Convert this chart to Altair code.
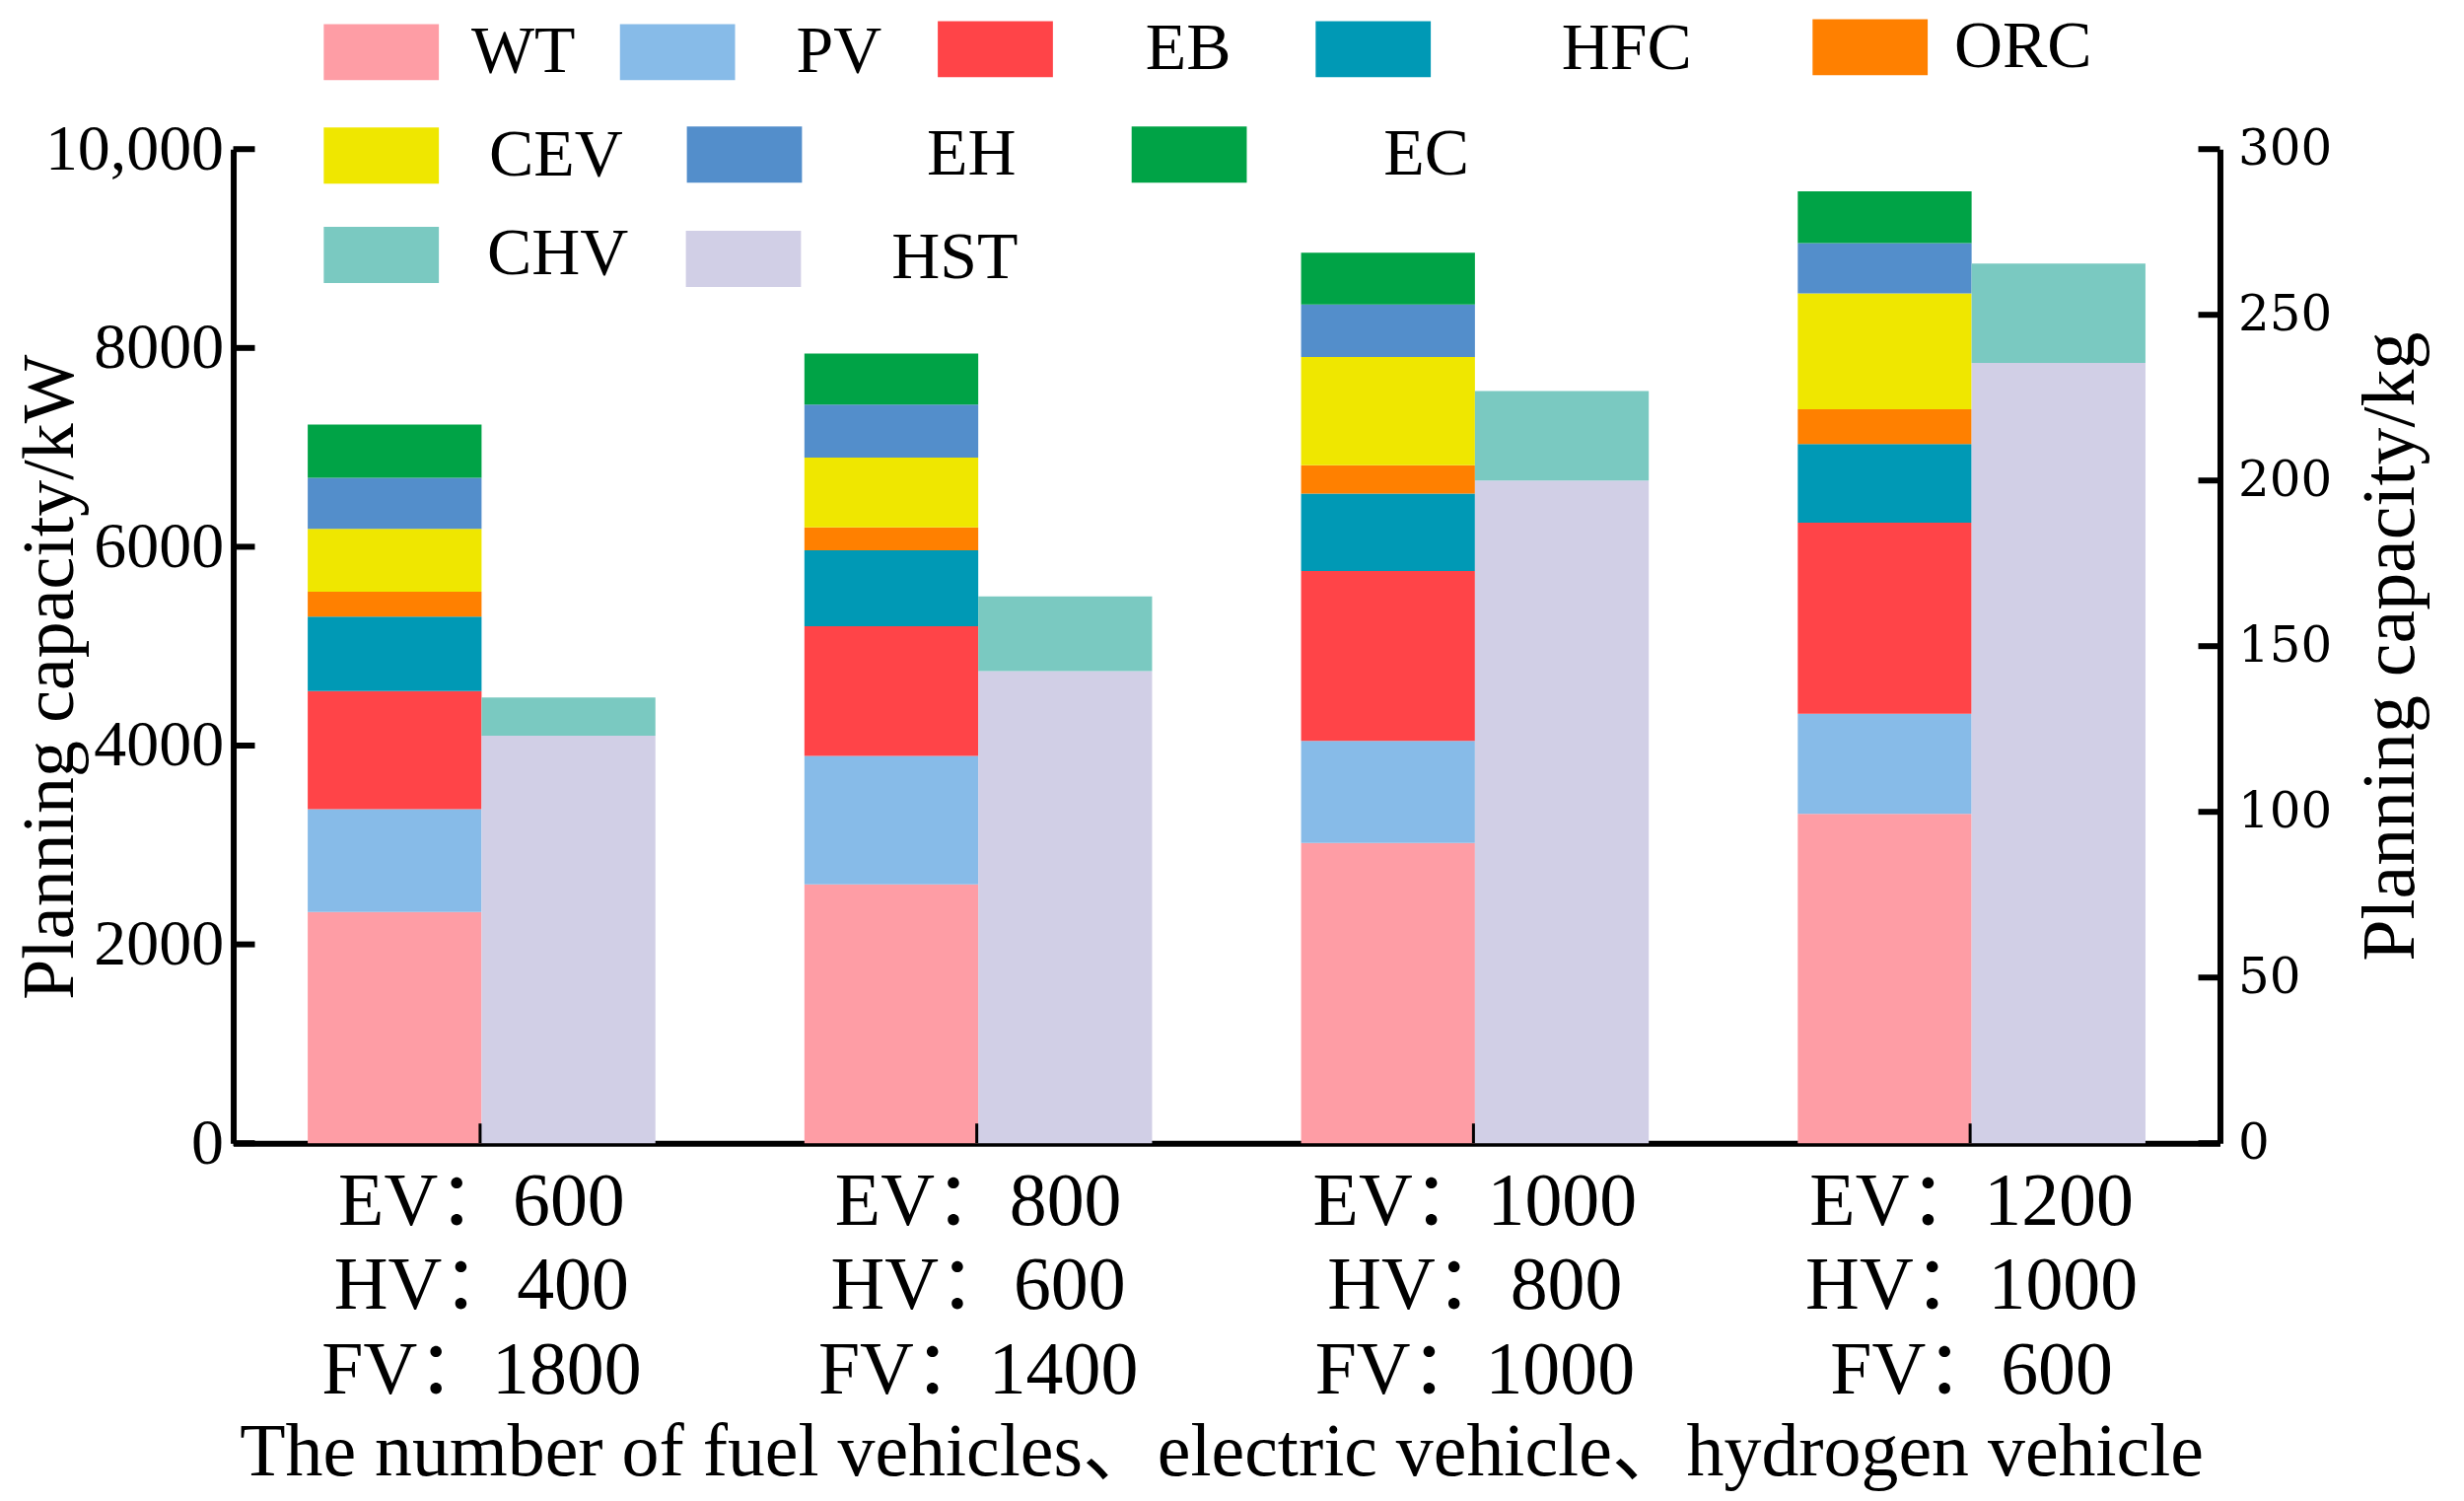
import altair as alt
import pandas as pd

# ---------------- data ----------------
EV = [600, 800, 1000, 1200]
HV = [400, 600, 800, 1000]
FV = [1800, 1400, 1000, 600]

# kW capacities (stacked, bottom to top)
WT = [2326, 2604, 3021, 3312]
PV = [1035, 1292, 1027, 1007]
EB = [1188, 1305, 1709, 1924]
HFC = [749, 764, 777, 791]
ORC = [250, 229, 285, 348]
CEV = [632, 702, 1090, 1166]
EH = [514, 534, 528, 507]
EC = [535, 514, 521, 521]

# kg capacities (stacked, bottom to top)
HST = [123, 142.5, 200, 235.5]
CHV = [11.5, 22.5, 27, 30]

kw_series = ["WT", "PV", "EB", "HFC", "ORC", "CEV", "EH", "EC"]
kg_series = ["HST", "CHV"]
colors = {"WT": "#FE9DA5", "PV": "#87BBE8", "EB": "#FF4448", "HFC": "#0099B5",
          "ORC": "#FF8000", "CEV": "#EFE700", "EH": "#538ECB", "EC": "#00A346",
          "CHV": "#7AC9C1", "HST": "#D1CFE6"}

kw_ticks = [0, 2000, 4000, 6000, 8000, 10000]
kg_ticks = [0, 50, 100, 150, 200, 250, 300]

# legend entry placement (x, y of entry box relative to plot, label offset)
legend_pos = {
    "WT": (92, -157, 33), "PV": (393, -157, 62), "EB": (716, -160, 94),
    "HFC": (1100, -160, 133), "ORC": (1605, -162, 27),
    "CEV": (92, -52, 51), "EH": (461, -53, 127), "EC": (913, -53, 139),
    "CHV": (92, 49, 49), "HST": (460, 53, 92),
}

# ---------------- tables ----------------
cats = [f"EV：{e}|HV：{h}|FV：{f}" for e, h, f in zip(EV, HV, FV)]
kw = {"WT": WT, "PV": PV, "EB": EB, "HFC": HFC, "ORC": ORC,
      "CEV": CEV, "EH": EH, "EC": EC}
kg = {"HST": HST, "CHV": CHV}

rows = []
for i, c in enumerate(cats):
    base = 0
    for s in kw_series:
        v = kw[s][i]
        rows.append(dict(cat=c, series=s, y0=base, y1=base + v, side="kW"))
        base += v
df_kw = pd.DataFrame(rows)

rows = []
for i, c in enumerate(cats):
    base = 0
    for s in kg_series:
        v = kg[s][i]
        rows.append(dict(cat=c, series=s, y0=base, y1=base + v, side="kg"))
        base += v
df_kg = pd.DataFrame(rows)

df_kwt = pd.DataFrame({"v": kw_ticks})
df_kgt = pd.DataFrame({"v": kg_ticks})
df_cat = pd.DataFrame({"cat": cats})

# ---------------- layout ----------------
W, H = 2019, 1010
SERIF = "Liberation Serif, 'Noto Sans CJK SC'"
TL = 22      # inward tick length
LW = 6       # axis line width

x_enc = alt.X(
    "cat:N", sort=cats,
    scale=alt.Scale(paddingInner=0.3, paddingOuter=0.15),
    axis=alt.Axis(
        title="The number of fuel vehicles、electric vehicle、hydrogen vehicle",
        labelExpr="split(datum.label, '|')",
        labelFont=SERIF, labelFontSize=76, labelLineHeight=86, labelLimit=2000,
        labelColor="black", labelAngle=0, labelPadding=22, labelBaseline="top",
        ticks=False, domainColor="black", domainWidth=LW,
        titleFont=SERIF, titleFontSize=76, titleFontWeight="normal",
        titleColor="black", titleX=1004, titleY=314, titleBaseline="middle",
        titleAlign="center", titleLimit=3000,
    ),
)
xo_enc = alt.XOffset("side:N", scale=alt.Scale(domain=["kW", "kg"],
                                                paddingInner=0, paddingOuter=0))

kw_scale = alt.Scale(domain=[0, 10000], nice=False, zero=True)
kg_scale = alt.Scale(domain=[0, 300], nice=False, zero=True)

left_axis = alt.Axis(
    title="Planning capacity/kW", values=kw_ticks,
    labelExpr="datum.value == 10000 ? '10,000' : datum.value",
    labelFont=SERIF, labelFontSize=66, labelColor="black", labelPadding=10,
    labelLimit=1000,
    ticks=False, grid=False, domainColor="black", domainWidth=LW,
    titleFont=SERIF, titleFontSize=74, titleFontWeight="normal", titleColor="black",
    titleAngle=270, titleX=-185, titleY=536, titleBaseline="middle", titleAlign="center",
    titleLimit=3000,
)
right_axis = alt.Axis(
    orient="right", title="Planning capacity/kg", values=kg_ticks,
    labelFont="DejaVu Serif", labelFontSize=50, labelColor="black",
    labelPadding=18, labelAlign="left", labelLimit=1000,
    ticks=False, grid=False, domainColor="black", domainWidth=LW,
    titleFont=SERIF, titleFontSize=76, titleFontWeight="normal", titleColor="black",
    titleAngle=270, titleX=173, titleY=505, titleBaseline="middle", titleAlign="center",
    titleLimit=3000,
)

RECT = "M-1,-0.487H1V0.487H-1Z"


def legend(s):
    x, y, off = legend_pos[s]
    return alt.Legend(
        title=None, orient="none", legendX=x, legendY=y, direction="horizontal",
        symbolType=RECT, symbolSize=13689, symbolStrokeWidth=0, symbolOpacity=1,
        labelFont=SERIF, labelFontSize=68, labelColor="black", labelLimit=1000,
        labelOffset=off, columnPadding=0, padding=0,
    )


def series_layer(df, s, yscale, yaxis):
    return alt.Chart(df).transform_filter(
        alt.datum.series == s
    ).mark_bar().encode(
        x=x_enc, xOffset=xo_enc,
        y=alt.Y("y0:Q", scale=yscale, axis=yaxis), y2="y1:Q",
        color=alt.Color("series:N",
                        scale=alt.Scale(domain=[s], range=[colors[s]]),
                        legend=legend(s)),
    )


kw_layers = [series_layer(df_kw, s, kw_scale, left_axis) for s in kw_series]
ticks_left = alt.Chart(df_kwt).mark_rule(color="black", strokeWidth=LW).encode(
    y=alt.Y("v:Q", scale=kw_scale, axis=left_axis),
    x=alt.value(0), x2=alt.value(TL),
)
ticks_bottom = alt.Chart(df_cat).mark_rule(color="black", strokeWidth=LW).encode(
    x=x_enc, y=alt.value(H - 20), y2=alt.value(H),
)
inner = alt.layer(*kw_layers, ticks_left, ticks_bottom).resolve_scale(color="independent")

kg_layers = [series_layer(df_kg, s, kg_scale, right_axis) for s in kg_series]
ticks_right = alt.Chart(df_kgt).mark_rule(color="black", strokeWidth=LW).encode(
    y=alt.Y("v:Q", scale=kg_scale, axis=right_axis),
    x=alt.value(W - TL), x2=alt.value(W),
)
right = alt.layer(*kg_layers, ticks_right).resolve_scale(color="independent")

chart = alt.layer(inner, right).resolve_scale(
    y="independent", color="independent"
).properties(
    width=W, height=H,
    autosize=alt.AutoSizeParams(type="none"),
    padding={"left": 229, "top": 142, "right": 240, "bottom": 354},
    background="white",
).configure_view(stroke=None)

chart.save("out.html", embed_options={"renderer": "svg", "actions": False})
